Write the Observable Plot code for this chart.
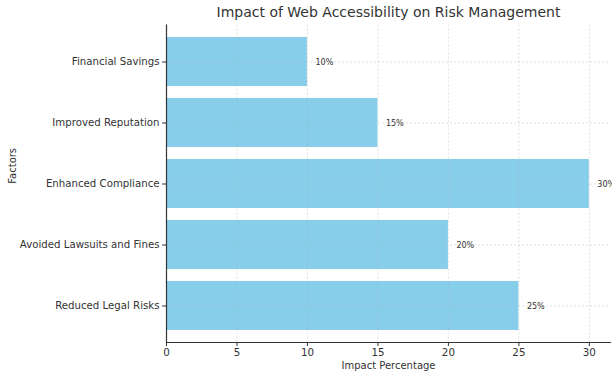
<!DOCTYPE html>
<html>
<head>
<meta charset="utf-8">
<script src="https://cdn.jsdelivr.net/npm/d3@7"></script>
<script src="https://cdn.jsdelivr.net/npm/@observablehq/plot@0.6"></script>
<style>
  html, body { margin: 0; padding: 0; background: #fff; }
  svg { font-family: "DejaVu Sans", sans-serif; }
</style>
</head>
<body>
<div id="chart"></div>
<script>
const factors = ["Financial Savings", "Improved Reputation", "Enhanced Compliance", "Avoided Lawsuits and Fines", "Reduced Legal Risks"];
const impact = [10, 15, 30, 20, 25];
const xTicks = [0, 5, 10, 15, 20, 25, 30];
const title = "Impact of Web Accessibility on Risk Management";

const data = factors.map((f, i) => ({factor: f, value: impact[i]}));

const chart = Plot.plot({
  width: 612,
  height: 371,
  marginLeft: 166,
  marginRight: 2,
  marginTop: 24.5,
  marginBottom: 29,
  style: {fontFamily: "DejaVu Sans, sans-serif", color: "#333", background: "#fff"},
  x: {domain: [0, 31.5], ticks: xTicks, label: null},
  y: {domain: factors, padding: 0.2, label: null},
  marks: [
    Plot.barX(data, {x: "value", y: "factor", fill: "#87CEEB"}),
    Plot.gridX(xTicks, {stroke: "#b0b0b0", strokeOpacity: 0.5, strokeDasharray: "2,2", strokeWidth: 0.8}),
    Plot.gridY(factors, {stroke: "#b0b0b0", strokeOpacity: 0.5, strokeDasharray: "2,2", strokeWidth: 0.8}),
    Plot.text(data, {x: "value", y: "factor", text: d => d.value + "%", dx: 8, textAnchor: "start", fontSize: 8, fill: "#333"}),
    Plot.axisX(xTicks, {tickSize: 4, tickPadding: 2, fontSize: 10.3, stroke: "#333", fill: "#333"}),
    Plot.axisY(factors, {tickSize: 4, tickPadding: 3, fontSize: 10.2, stroke: "#333", fill: "#333"}),
    Plot.ruleX([0], {stroke: "#333", strokeWidth: 1.2}),
    Plot.frame({anchor: "bottom", stroke: "#333", strokeWidth: 1.2}),
    Plot.text([title], {frameAnchor: "top", dy: -18, fontSize: 14, fill: "#333"}),
    Plot.text(["Impact Percentage"], {frameAnchor: "bottom", dy: 26, fontSize: 10, fill: "#333"}),
    Plot.text(["Factors"], {frameAnchor: "left", dx: -154, rotate: -90, fontSize: 10, fill: "#333"})
  ]
});
document.getElementById("chart").appendChild(chart);
</script>
</body>
</html>
